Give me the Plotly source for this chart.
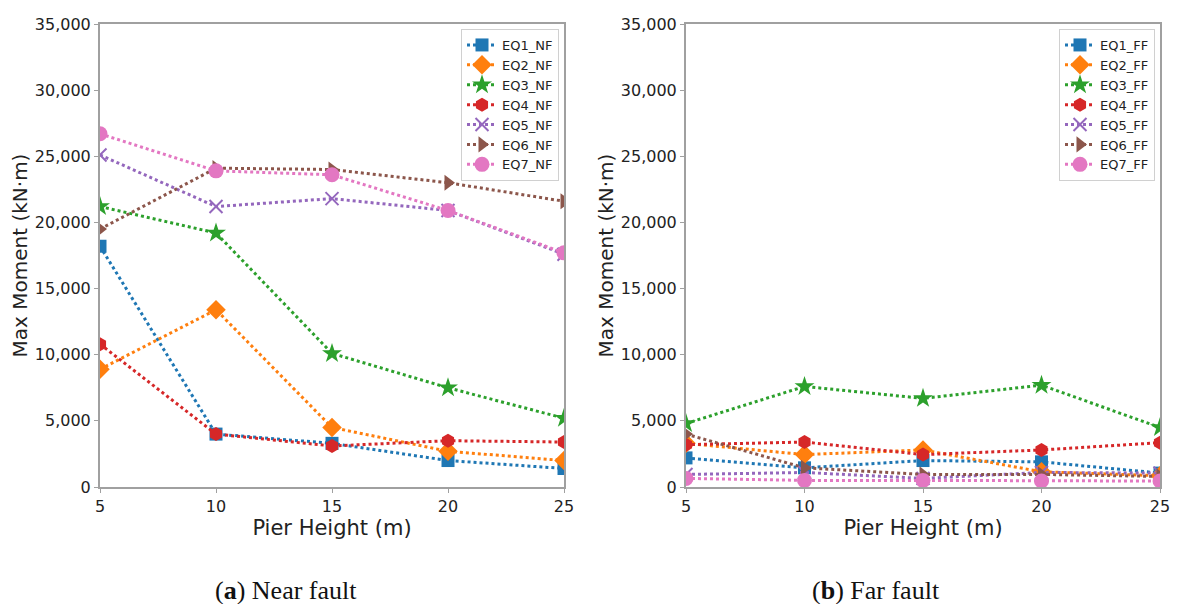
import plotly.graph_objects as go

heights = [5, 10, 15, 20, 25]

eq1_nf = [18200, 4000, 3300, 2000, 1400]
eq2_nf = [8900, 13400, 4500, 2700, 2000]
eq3_nf = [21200, 19200, 10100, 7500, 5200]
eq4_nf = [10800, 4000, 3100, 3500, 3400]
eq5_nf = [25100, 21200, 21800, 20900, 17600]
eq6_nf = [19500, 24100, 24000, 23000, 21600]
eq7_nf = [26700, 23900, 23600, 20900, 17700]

eq1_ff = [2200, 1450, 2000, 1900, 1050]
eq2_ff = [3300, 2450, 2800, 1150, 850]
eq3_ff = [4800, 7600, 6700, 7700, 4500]
eq4_ff = [3200, 3400, 2450, 2800, 3350]
eq5_ff = [950, 1100, 650, 1100, 1050]
eq6_ff = [4000, 1450, 950, 950, 800]
eq7_ff = [650, 500, 500, 450, 450]

nf_names = ["EQ1_NF", "EQ2_NF", "EQ3_NF", "EQ4_NF", "EQ5_NF", "EQ6_NF", "EQ7_NF"]
ff_names = ["EQ1_FF", "EQ2_FF", "EQ3_FF", "EQ4_FF", "EQ5_FF", "EQ6_FF", "EQ7_FF"]

colors = ["#1f77b4", "#ff7f0e", "#2ca02c", "#d62728", "#9467bd", "#8c564b", "#e377c2"]
symbols = ["square", "diamond", "star", "hexagon", "x-thin", "triangle-right", "circle"]
sizes = [13, 15, 15, 14, 13, 14, 15]

nf = [eq1_nf, eq2_nf, eq3_nf, eq4_nf, eq5_nf, eq6_nf, eq7_nf]
ff = [eq1_ff, eq2_ff, eq3_ff, eq4_ff, eq5_ff, eq6_ff, eq7_ff]

fig = go.Figure()

def marker(i):
    mk = dict(symbol=symbols[i], size=sizes[i], color=colors[i])
    if symbols[i] == "x-thin":
        mk["line"] = dict(color=colors[i], width=2)
    return mk

for i in range(7):
    fig.add_trace(go.Scatter(
        x=heights, y=nf[i], name=nf_names[i], mode="lines+markers",
        line=dict(color=colors[i], width=3, dash="dot"), marker=marker(i),
        xaxis="x", yaxis="y", legend="legend"))
for i in range(7):
    fig.add_trace(go.Scatter(
        x=heights, y=ff[i], name=ff_names[i], mode="lines+markers",
        line=dict(color=colors[i], width=3, dash="dot"), marker=marker(i),
        xaxis="x2", yaxis="y2", legend="legend2"))

W, H = 1177, 604
dom_y = [1 - 487 / H, 1 - 24 / H]

axis_common = dict(
    showline=True, linecolor="#a0a0a0", linewidth=2, mirror=True,
    showgrid=False, zeroline=False, ticks="outside", ticklen=4,
    tickcolor="#a0a0a0", automargin=False,
    tickfont=dict(family="DejaVu Sans", size=16, color="#222"),
)
xtitle = dict(text="Pier Height (m)", font=dict(size=21), standoff=0)
ytitle = dict(text="Max Moment (kN·m)", font=dict(size=20), standoff=2)

fig.update_layout(
    width=W, height=H,
    margin=dict(l=0, r=0, t=0, b=0),
    plot_bgcolor="white", paper_bgcolor="white",
    font=dict(family="DejaVu Sans", color="#222"),
    xaxis=dict(domain=[100 / W, 564 / W], range=[5, 25], tickvals=heights,
               title=xtitle, anchor="y", **axis_common),
    yaxis=dict(domain=dom_y, range=[0, 35000], dtick=5000, tickformat=",",
               title=ytitle, anchor="x", **axis_common),
    xaxis2=dict(domain=[686 / W, 1160 / W], range=[5, 25], tickvals=heights,
                title=xtitle, anchor="y2", **axis_common),
    yaxis2=dict(domain=dom_y, range=[0, 35000], dtick=5000, tickformat=",",
                title=ytitle, anchor="x2", **axis_common),
    legend=dict(x=559 / W, y=1 - 29 / H, xanchor="right", yanchor="top",
                bgcolor="white", bordercolor="#d0d0d0", borderwidth=1,
                font=dict(size=13), tracegroupgap=0, itemwidth=30),
    legend2=dict(x=1155 / W, y=1 - 29 / H, xanchor="right", yanchor="top",
                 bgcolor="white", bordercolor="#d0d0d0", borderwidth=1,
                 font=dict(size=13), tracegroupgap=0, itemwidth=30),
    annotations=[
        dict(text="(<b>a</b>) Near fault", x=286 / W, y=1 - 590 / H, xref="paper", yref="paper",
             xanchor="center", yanchor="middle", showarrow=False,
             font=dict(family="Liberation Serif", size=26, color="#111")),
        dict(text="(<b>b</b>) Far fault", x=876 / W, y=1 - 590 / H, xref="paper", yref="paper",
             xanchor="center", yanchor="middle", showarrow=False,
             font=dict(family="Liberation Serif", size=26, color="#111")),
    ],
)

fig.write_html("out.html")
